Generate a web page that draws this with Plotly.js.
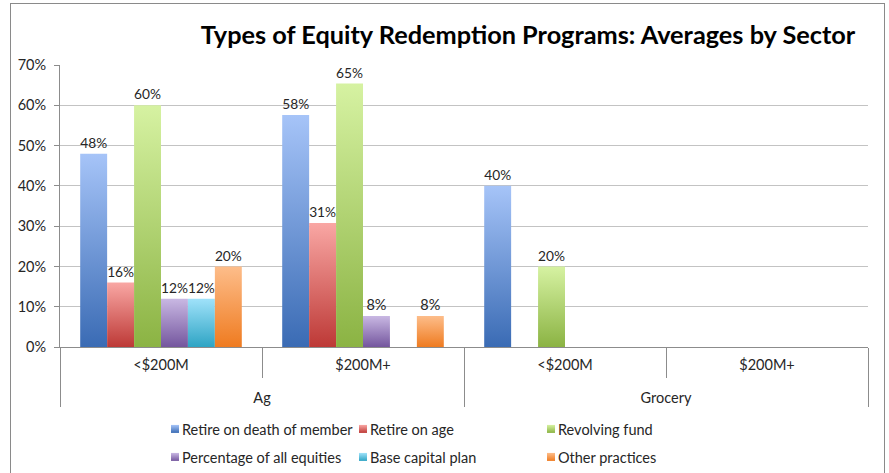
<!DOCTYPE html>
<html><head><meta charset="utf-8">
<script src="https://cdn.plot.ly/plotly-3.0.1.min.js"></script>
<style>
html,body{margin:0;padding:0;background:#fff;}
#chart{position:absolute;left:0;top:0;width:889px;height:473px;}
#frame{position:absolute;left:10px;top:3px;width:875px;height:480px;border:1px solid #8a8a8a;box-sizing:border-box;pointer-events:none;z-index:5;}
</style></head><body>
<div id="chart"></div><div id="frame"></div>
<script>
// ---- data ----
const sectors = ["Ag", "Ag", "Grocery", "Grocery"];
const sizes = ["<$200M", "$200M+", "<$200M", "$200M+"];
const seriesNames = ["Retire on death of member", "Retire on age", "Revolving fund",
                     "Percentage of all equities", "Base capital plan", "Other practices"];
const retireDeath    = [0.48, 0.576, 0.40, null];
const retireAge      = [0.16, 0.308, null, null];
const revolvingFund  = [0.60, 0.654, 0.20, null];
const pctEquities    = [0.12, 0.077, null, null];
const baseCapital    = [0.12, null, null, null];
const otherPractices = [0.20, 0.077, null, null];
const yTickVals = [0, 0.1, 0.2, 0.3, 0.4, 0.5, 0.6, 0.7];
const yTickText = ["0%", "10%", "20%", "30%", "40%", "50%", "60%", "70%"];

// ---- styles ----
const flat = ["rgb(112, 151, 214)", "rgb(219, 110, 108)", "rgb(176, 210, 115)",
              "rgb(160, 135, 193)", "rgb(102, 195, 224)", "rgb(246, 156, 88)"];
const grads = [["#a6c4f8", "#3a6bb4"], ["#f9a7a4", "#bd3936"], ["#d6f2a2", "#8bb343"],
               ["#c9b8e3", "#74569e"], ["#a0e2fa", "#2ea4c4"], ["#fdbd8a", "#ef7b20"]];
const seriesValues = [retireDeath, retireAge, revolvingFund, pctEquities, baseCapital, otherPractices];
const txtFont = {family: "Lato, 'DejaVu Sans', sans-serif", size: 14.5, color: "#262626"};

// outer-level labels get a blank first line to sit lower, as in the reference
const outerLabels = sectors.map(s => "<br>" + s);

const traces = seriesValues.map((vals, i) => ({
  type: "bar",
  name: seriesNames[i],
  x: [outerLabels, sizes],
  y: vals,
  marker: {color: flat[i], line: {width: 0}},
  texttemplate: "%{y:.0%}",
  textposition: "outside",
  textfont: txtFont,
  cliponaxis: false,
  legend: i < 3 ? "legend" : "legend2",
  hoverinfo: "skip"
}));

const legendCommon = {
  orientation: "h", xref: "container", yref: "container", xanchor: "left", yanchor: "middle",
  font: txtFont, entrywidth: 143, entrywidthmode: "pixels", itemwidth: 30,
  bgcolor: "rgba(0,0,0,0)", tracegroupgap: 0, itemclick: false
};

const layout = {
  width: 889, height: 473,
  margin: {l: 60, r: 21, t: 65, b: 126},
  paper_bgcolor: "#ffffff", plot_bgcolor: "#ffffff",
  font: txtFont,
  title: {text: "<b>Types of Equity Redemption Programs: Averages by Sector</b>",
          font: {family: "Lato, 'DejaVu Sans', sans-serif", size: 25.3, color: "#000"},
          x: 0.594, xanchor: "center", xref: "container", y: 0.926, yanchor: "middle", yref: "container"},
  barmode: "group", bargap: 0.2, bargroupgap: 0,
  showlegend: true,
  legend: Object.assign({}, legendCommon, {x: 142 / 889, y: 1 - 429 / 473}),
  legend2: Object.assign({}, legendCommon, {x: 142 / 889, y: 1 - 457 / 473}),
  xaxis: {
    type: "multicategory",
    showline: true, linecolor: "#8c8c8c", linewidth: 1,
    ticks: "outside", tickson: "boundaries", ticklen: 30, tickcolor: "#8c8c8c",
    ticklabelstandoff: 5,
    showdividers: true, dividercolor: "#8c8c8c", dividerwidth: 1,
    tickfont: txtFont, showgrid: false, zeroline: false
  },
  yaxis: {
    range: [0, 0.7], tickvals: yTickVals, ticktext: yTickText,
    showgrid: true, gridcolor: "#c3c3c3", gridwidth: 1,
    showline: true, linecolor: "#8c8c8c", linewidth: 1,
    ticks: "outside", ticklen: 5, tickcolor: "#8c8c8c", ticklabelstandoff: 5,
    tickfont: txtFont, zeroline: false
  }
};

const gd = document.getElementById("chart");
Plotly.newPlot(gd, traces, layout, {displayModeBar: false, staticPlot: true}).then(() => {
  const NS = "http://www.w3.org/2000/svg";
  const svg = gd.querySelector("svg.main-svg");
  let defs = svg.querySelector("defs");
  if (!defs) { defs = document.createElementNS(NS, "defs"); svg.insertBefore(defs, svg.firstChild); }
  grads.forEach((g, i) => {
    const lg = document.createElementNS(NS, "linearGradient");
    lg.setAttribute("id", "bargrad" + i);
    lg.setAttribute("x1", "0"); lg.setAttribute("y1", "0");
    lg.setAttribute("x2", "0"); lg.setAttribute("y2", "1");
    [[0, g[0]], [1, g[1]]].forEach(([o, c]) => {
      const s = document.createElementNS(NS, "stop");
      s.setAttribute("offset", o); s.setAttribute("stop-color", c);
      lg.appendChild(s);
    });
    defs.appendChild(lg);
  });
  const norm = s => (s || "").replace(/\s+/g, "");
  gd.querySelectorAll("path").forEach(p => {
    const f = norm(p.style.fill);
    const idx = flat.findIndex(c => norm(c) === f);
    if (idx >= 0) p.style.fill = "url(#bargrad" + idx + ")";
  });
  // smaller legend swatches placed close to their text, like the reference
  gd.querySelectorAll(".legendpoints path").forEach(p => {
    p.setAttribute("d", "M4,4H-4V-4H4Z");
    p.setAttribute("transform", "translate(33,0)");
  });
});
</script>
</body></html>
